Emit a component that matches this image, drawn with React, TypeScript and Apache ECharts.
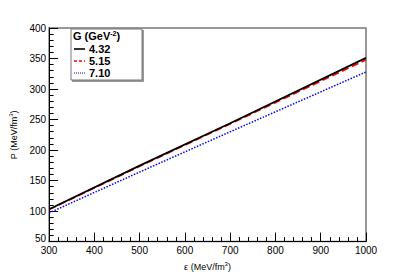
import React, { useEffect, useRef } from "react";
import * as echarts from "echarts";

const xValues = [300, 500, 700, 1000];
const seriesNames = ["4.32", "5.15", "7.10"];
const seriesG432 = [103, 174.5, 244, 351];
const seriesG515 = [102.5, 173.5, 243, 348];
const seriesG710 = [97, 164, 230, 328];
const xTicks = [300, 400, 500, 600, 700, 800, 900, 1000];
const yTicks = [50, 100, 150, 200, 250, 300, 350, 400];

const colors = ["#000000", "#ff0000", "#0000ff"];
const lineTypes: any[] = ["solid", "dashed", "dotted"];

export default function App() {
  const ref = useRef<HTMLDivElement>(null);
  useEffect(() => {
    if (!ref.current) return;
    const chart = echarts.init(ref.current, undefined, { renderer: "svg" });
    const font = "'Liberation Sans', Arial, sans-serif";
    const allSeries = [seriesG432, seriesG515, seriesG710];
    const legendX = 74;
    const legendYs = [49, 61, 73];
    chart.setOption({
      animation: false,
      backgroundColor: "#ffffff",
      grid: {
        left: 41,
        right: 41,
        top: 28,
        bottom: 28,
        show: true,
        borderColor: "#777777",
        borderWidth: 1.5,
        backgroundColor: "transparent",
      },
      xAxis: {
        type: "value",
        min: xTicks[0],
        max: xTicks[xTicks.length - 1],
        interval: 100,
        name: "ε (MeV/fm{sup|3})",
        nameLocation: "middle",
        nameGap: 10,
        nameTextStyle: {
          fontFamily: font,
          fontSize: 9,
          color: "#000",
          rich: { sup: { fontSize: 6, verticalAlign: "top", padding: [0, 0, 6, 0] } },
        },
        axisLine: { show: true, lineStyle: { color: "#000", width: 1 } },
        axisTick: { show: true, inside: true, length: 9, lineStyle: { color: "#000" } },
        minorTick: { show: true, splitNumber: 5, length: 4.5, lineStyle: { color: "#000" } },
        splitLine: { show: false },
        axisLabel: {
          fontFamily: font,
          fontSize: 10,
          color: "#000",
          margin: 4,
          formatter: (v: number) => String(v),
        },
      },
      yAxis: {
        type: "value",
        min: yTicks[0],
        max: yTicks[yTicks.length - 1],
        interval: 50,
        name: "P (MeV/fm{sup|3})",
        nameLocation: "middle",
        nameRotate: 90,
        nameGap: 28,
        nameTextStyle: {
          fontFamily: font,
          fontSize: 9,
          color: "#000",
          rich: { sup: { fontSize: 6, verticalAlign: "top", padding: [0, 0, 6, 0] } },
        },
        axisLine: { show: true, lineStyle: { color: "#000", width: 1 } },
        axisTick: { show: true, inside: true, length: 9, lineStyle: { color: "#000" } },
        minorTick: { show: true, splitNumber: 5, length: 4.5, lineStyle: { color: "#000" } },
        splitLine: { show: false },
        axisLabel: {
          fontFamily: font,
          fontSize: 10,
          color: "#000",
          margin: 3,
          formatter: (v: number) => (v === yTicks[0] ? "{lo|" + v + "}" : String(v)),
          rich: { lo: { fontFamily: font, fontSize: 10, color: "#000", padding: [0, 0, 6, 0] } },
        },
      },
      series: allSeries.map((vals, i) => ({
        name: seriesNames[i],
        type: "line",
        data: xValues.map((x, j) => [x, vals[j]]),
        showSymbol: false,
        z: 3 - i,
        lineStyle: { color: colors[i], width: i === 2 ? 1.5 : 1.8, type: lineTypes[i] },
      })),
      graphic: [
        {
          type: "rect",
          shape: { x: 72, y: 30, width: 72, height: 52 },
          style: { fill: "#999999" },
          z: 10,
        },
        {
          type: "rect",
          shape: { x: 71, y: 29, width: 71, height: 51 },
          style: { fill: "#ffffff", stroke: "#777777", lineWidth: 1 },
          z: 11,
        },
        {
          type: "text",
          x: 73,
          y: 36,
          style: {
            text: "G (GeV{sup|-2})",
            fontFamily: font,
            fontSize: 11,
            fontWeight: "bold",
            fill: "#000",
            verticalAlign: "middle",
            rich: {
              sup: { fontSize: 7, fontWeight: "bold", verticalAlign: "top", padding: [0, 0, 6, 0] },
            },
          },
          z: 12,
        },
        ...seriesNames.flatMap((n, i) => [
          {
            type: "line",
            shape: { x1: legendX, y1: legendYs[i], x2: legendX + 11, y2: legendYs[i] },
            style: {
              stroke: colors[i],
              lineWidth: i === 2 ? 1.2 : 1.6,
              lineDash: i === 0 ? null : i === 1 ? [3, 2] : [1, 1],
            },
            z: 12,
          },
          {
            type: "text",
            x: 89,
            y: legendYs[i],
            style: {
              text: n,
              fontFamily: font,
              fontSize: 11,
              fontWeight: "bold",
              fill: "#000",
              verticalAlign: "middle",
            },
            z: 12,
          },
        ]),
      ],
    });
    return () => chart.dispose();
  }, []);
  return (
    <div
      ref={ref}
      style={{ position: "fixed", left: 0, top: 0, width: 407, height: 276 }}
    />
  );
}
